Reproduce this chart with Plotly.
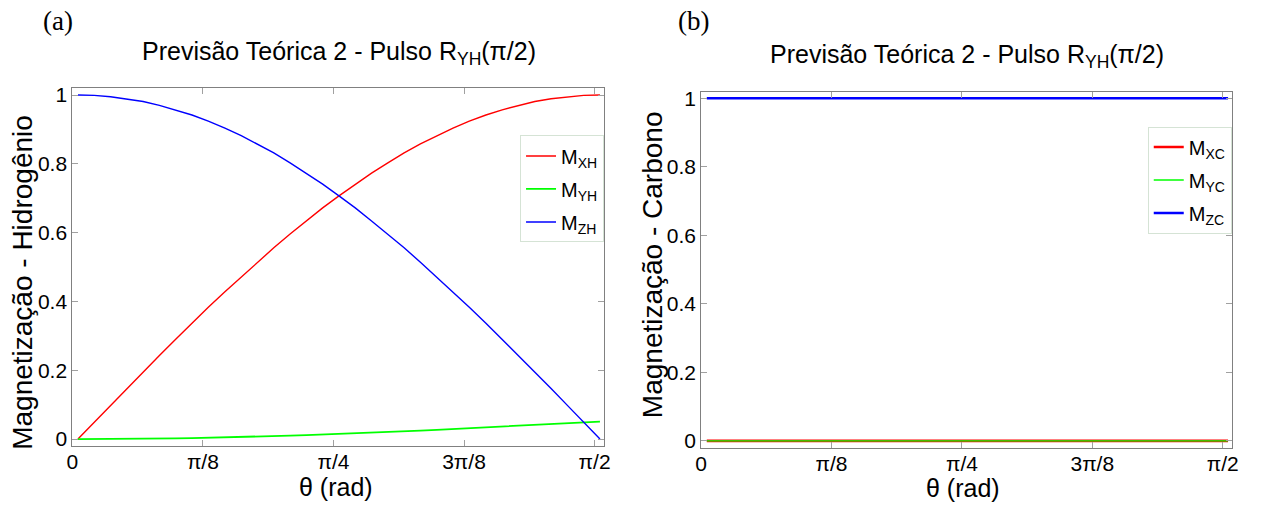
import plotly.graph_objects as go

# Pulse angle samples (rad)
theta = [0.017, 0.066, 0.115, 0.164, 0.213, 0.262, 0.311, 0.360, 0.409,
         0.459, 0.508, 0.557, 0.606, 0.655, 0.704, 0.753, 0.802, 0.851,
         0.900, 0.949, 0.998, 1.047, 1.096, 1.145, 1.194, 1.244, 1.293,
         1.342, 1.391, 1.440, 1.489, 1.538, 1.587]

# Hydrogen magnetization components
m_xh = [0.000, 0.049, 0.098, 0.147, 0.195, 0.243, 0.290, 0.337, 0.383,
        0.428, 0.471, 0.514, 0.556, 0.596, 0.634, 0.672, 0.707, 0.741,
        0.773, 0.803, 0.832, 0.858, 0.882, 0.904, 0.924, 0.942, 0.957,
        0.970, 0.981, 0.989, 0.995, 0.999, 1.000]
m_yh = [0.0000, 0.0001, 0.0002, 0.0006, 0.0010, 0.0015, 0.0022, 0.0030,
        0.0039, 0.0049, 0.0060, 0.0073, 0.0086, 0.0100, 0.0116, 0.0132,
        0.0149, 0.0167, 0.0186, 0.0206, 0.0227, 0.0248, 0.0270, 0.0292,
        0.0315, 0.0338, 0.0362, 0.0386, 0.0410, 0.0435, 0.0460, 0.0485,
        0.0510]
m_zh = [1.000, 0.999, 0.995, 0.989, 0.981, 0.970, 0.957, 0.942, 0.924,
        0.904, 0.882, 0.858, 0.832, 0.803, 0.773, 0.741, 0.707, 0.672,
        0.634, 0.596, 0.556, 0.514, 0.471, 0.428, 0.383, 0.337, 0.290,
        0.243, 0.195, 0.147, 0.098, 0.049, 0.000]

# Carbon magnetization components
m_xc = [0.0] * 33
m_yc = [0.0] * 33
m_zc = [1.0] * 33

x_tickvals = [0, 0.3927, 0.7854, 1.1781, 1.5708]
x_ticktext = ["0", "\u03c0/8", "\u03c0/4", "3\u03c0/8", "\u03c0/2"]
y_tickvals = [0, 0.2, 0.4, 0.6, 0.8, 1.0]
y_ticktext = ["0", "0.2", "0.4", "0.6", "0.8", "1"]

SANS = "Liberation Sans, Arial, sans-serif"
SERIF = "Liberation Serif, Times New Roman, serif"
AXIS_GRAY = "#808080"
TICK_GRAY = "#a0a0a0"
W, H = 1275, 505

fig = go.Figure()

left = [("M<sub>XH</sub>", m_xh, "#ff0000", 1.4),
        ("M<sub>YH</sub>", m_yh, "#00ff00", 1.8),
        ("M<sub>ZH</sub>", m_zh, "#0000ff", 1.4)]
for i, (name, ys, color, w) in enumerate(left):
    fig.add_trace(go.Scatter(x=theta, y=ys, mode="lines", name=name,
                             line=dict(color=color, width=w),
                             xaxis="x", yaxis="y", legend="legend",
                             legendgroup="h%d" % i))

right = [("M<sub>XC</sub>", m_xc, "#ff0000", 2.6),
         ("M<sub>YC</sub>", m_yc, "#00ff00", 1.4),
         ("M<sub>ZC</sub>", m_zc, "#0000ff", 2.6)]
for i, (name, ys, color, w) in enumerate(right):
    fig.add_trace(go.Scatter(x=theta, y=ys, mode="lines", name=name,
                             line=dict(color=color, width=w),
                             xaxis="x2", yaxis="y2", legend="legend2",
                             legendgroup="c%d" % i))

def xaxis(domain, anchor):
    return dict(domain=domain, anchor=anchor, range=[0, 1.6],
                tickvals=x_tickvals, ticktext=x_ticktext,
                ticks="inside", ticklen=6, tickcolor=TICK_GRAY,
                ticklabelstandoff=-3,
                showline=True, linecolor=AXIS_GRAY, linewidth=1,
                mirror="ticks", showgrid=False, zeroline=False,
                tickfont=dict(family=SANS, size=21, color="#000000"))

def yaxis(domain, anchor):
    return dict(domain=domain, anchor=anchor, range=[-0.02, 1.019],
                tickvals=y_tickvals, ticktext=y_ticktext,
                ticks="inside", ticklen=6, tickcolor=TICK_GRAY,
                showline=True, linecolor=AXIS_GRAY, linewidth=1,
                mirror="ticks", showgrid=False, zeroline=False,
                tickfont=dict(family=SANS, size=21, color="#000000"))

legend_style = dict(font=dict(family=SANS, size=20, color="#000000"),
                    bordercolor="#d5e3d5", borderwidth=1,
                    bgcolor="#ffffff", itemwidth=30,
                    tracegroupgap=4, xanchor="left", yanchor="top",
                    xref="paper", yref="paper")

title_text = "Previs\u00e3o Te\u00f3rica 2 - Pulso R<sub>YH</sub>(\u03c0/2)"

def label(text, px, py, family, size, angle=0):
    # text centred on a pixel position of the page
    return dict(text=text, x=px / W, y=1 - py / H, xref="paper", yref="paper",
                xanchor="center", yanchor="middle", showarrow=False,
                textangle=angle,
                font=dict(family=family, size=size, color="#000000"))

fig.update_layout(
    width=W, height=H,
    margin=dict(l=0, r=0, t=0, b=0),
    paper_bgcolor="#ffffff", plot_bgcolor="#ffffff",
    xaxis=xaxis([0.0525, 0.4737], "y"),
    yaxis=yaxis([0.1109, 0.8317], "x"),
    xaxis2=xaxis([0.5504, 0.9710], "y2"),
    yaxis2=yaxis([0.1075, 0.8252], "x2"),
    legend=dict(x=0.407, y=0.737, **legend_style),
    legend2=dict(x=0.904, y=0.755, **legend_style),
    annotations=[
        label(title_text, 336, 49, SANS, 25),
        label(title_text, 970, 52, SANS, 25),
        label("(a)", 52, 16, SERIF, 27),
        label("(b)", 694, 16, SERIF, 27),
        label("Magnetiza\u00e7\u00e3o - Hidrog\u00eanio", 17, 282, SANS, 28, -90),
        label("Magnetiza\u00e7\u00e3o - Carbono", 652, 264, SANS, 28, -90),
        label("\u03b8 (rad)", 333, 491, SANS, 25),
        label("\u03b8 (rad)", 966, 492, SANS, 25),
    ],
)

fig.write_html("out.html")
